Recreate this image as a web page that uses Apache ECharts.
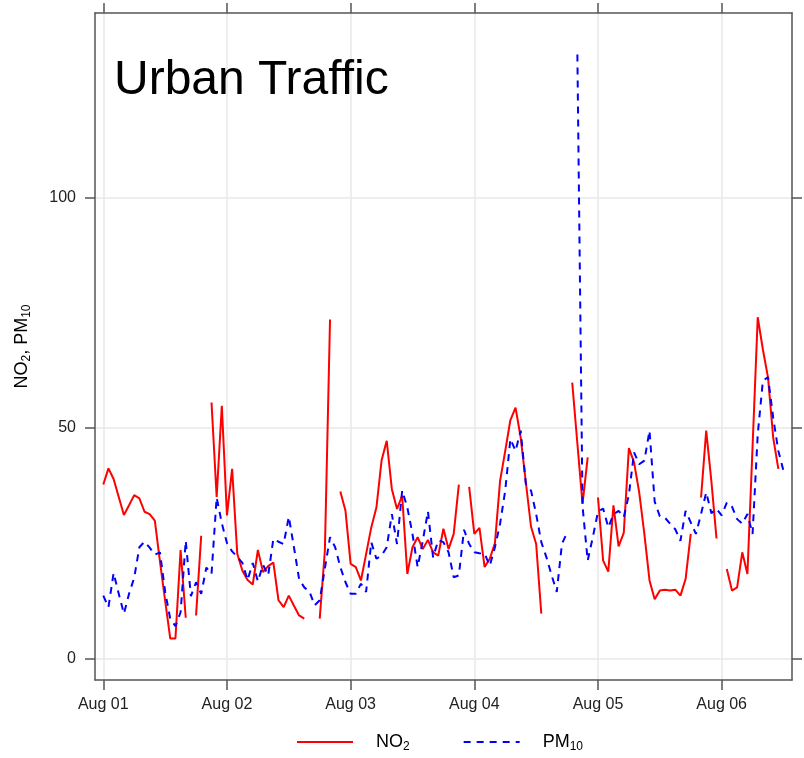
<!DOCTYPE html>
<html>
<head>
<meta charset="utf-8">
<script src="https://cdn.jsdelivr.net/npm/echarts@6/dist/echarts.min.js"></script>
<style>
  html, body { margin: 0; padding: 0; background: #fff; }
  #chart { width: 804px; height: 758px; }
</style>
</head>
<body>
<div id="chart"></div>
<script>
// hourly values from Aug 01 00:00, null = missing hour
var dayLabels = ['Aug 01', 'Aug 02', 'Aug 03', 'Aug 04', 'Aug 05', 'Aug 06'];
var dayTicks = [0, 24, 48, 72, 96, 120];
var yTicks = [0, 50, 100];

var no2 = [
  37.7, 41.2, 38.9, 35.0, 31.1, 33.2, 35.4, 34.7, 31.8, 31.3, 29.9, 21.0, 12.5, 4.3, 4.3, 23.5, 8.8, null, 9.3, 26.6, null, 55.5, 35.0, 54.8,
  31.0, 41.1, 22.7, 19.0, 17.0, 16.0, 23.5, 18.7, 20.0, 20.8, 12.6, 11.1, 13.6, 11.4, 9.3, 8.6, null, null, 8.6, 23.4, 73.5, null, 36.2, 32.0,
  20.5, 19.8, 16.9, 22.6, 28.4, 32.7, 42.9, 47.2, 36.7, 32.4, 35.3, 18.3, 24.1, 26.3, 23.7, 25.7, 23.0, 22.3, 28.1, 23.7, 27.0, 37.7, null, 37.2,
  27.0, 28.3, 19.8, 21.6, 25.0, 38.5, 45.0, 51.7, 54.4, 47.9, 38.2, 28.6, 24.8, 9.7, null, null, null, null, null, 59.8, 46.6, 33.5, 43.6, null,
  34.9, 21.2, 18.8, 33.2, 24.3, 27.2, 45.6, 42.5, 36.0, 27.0, 16.9, 12.8, 14.7, 14.9, 14.7, 14.9, 13.6, 17.2, 27.0, null, 34.9, 49.4, 38.5, 26.0,
  null, 19.4, 14.7, 15.4, 23.0, 18.3, 46.0, 74.0, 67.0, 60.9, 47.9, 41.1
];

var pm10 = [
  13.6, 11.1, 18.5, 14.0, 9.7, 14.0, 17.5, 24.1, 25.3, 24.0, 22.5, 23.0, 14.5, 8.5, 7.0, 10.0, 25.5, 13.5, 16.5, 14.0, 19.7, 18.3, 34.9, 29.3,
  25.0, 23.2, 22.0, 20.7, 17.0, 20.7, 16.7, 20.3, 18.0, 25.9, 25.3, 24.8, 30.7, 24.1, 17.2, 15.4, 14.5, 11.5, 12.6, 19.5, 26.3, 24.1, 19.8, 16.5,
  14.0, 14.0, 16.2, 14.4, 25.2, 21.6, 22.3, 24.1, 31.3, 24.8, 36.4, 32.7, 27.0, 19.8, 25.5, 31.9, 21.9, 25.6, 25.2, 23.0, 17.6, 18.0, 27.9, 24.8,
  23.0, 22.8, 22.7, 20.1, 24.1, 29.2, 36.4, 47.6, 45.0, 49.4, 37.8, 36.4, 31.3, 25.2, 21.9, 18.0, 14.4, 24.8, 27.3, null, 131.0, 33.0, 21.2, 26.3,
  31.8, 32.5, 28.4, 31.2, 32.0, 30.6, 35.5, 44.7, 42.1, 42.9, 49.4, 34.0, 30.8, 30.5, 29.2, 28.0, 25.5, 32.0, 29.5, 27.0, 31.3, 36.0, 31.5, 32.4,
  31.0, 33.8, 32.9, 30.2, 29.2, 31.3, 27.0, 48.6, 60.2, 61.0, 52.2, 45.0, 40.7
];

function toPairs(arr) {
  var out = [];
  for (var i = 0; i < arr.length; i++) out.push([i, arr[i]]);
  return out;
}

var frameColor = '#555555';
var font = 'Liberation Sans, Arial, sans-serif';
var rich = {
  n: { fontSize: 18, lineHeight: 22, fontFamily: font, color: '#000' },
  s: { fontSize: 12, lineHeight: 12, verticalAlign: 'bottom', fontFamily: font, color: '#000' }
};

function xAxisDef(pos, labels) {
  return {
    type: 'value',
    position: pos,
    min: -1.61,
    max: 133.65,
    minInterval: 24,
    maxInterval: 24,
    axisLine: { show: true, onZero: false, lineStyle: { color: frameColor, width: 1.5 } },
    axisTick: { show: true, length: 10, customValues: dayTicks, lineStyle: { color: frameColor, width: 1.5 } },
    axisLabel: {
      show: labels, customValues: dayTicks, margin: 17, fontSize: 16, color: '#222', fontFamily: font,
      formatter: function (v) { return dayLabels[Math.round(v / 24)] || ''; }
    },
    splitLine: { show: labels, lineStyle: { color: '#e8e8e8', width: 1.5 } }
  };
}

function yAxisDef(pos, labels) {
  var ax = {
    type: 'value',
    position: pos,
    min: -4.7,
    max: 140,
    minInterval: 50,
    maxInterval: 50,
    axisLine: { show: true, onZero: false, lineStyle: { color: frameColor, width: 1.5 } },
    axisTick: { show: true, length: 10, customValues: yTicks, lineStyle: { color: frameColor, width: 1.5 } },
    axisLabel: { show: labels, customValues: yTicks, margin: 19, fontSize: 16, color: '#222', fontFamily: font },
    splitLine: { show: labels, lineStyle: { color: '#e8e8e8', width: 1.5 } }
  };
  if (labels) {
    ax.name = '{n|NO}{s|2}{n|, PM}{s|10}';
    ax.nameLocation = 'middle';
    ax.nameRotate = 90;
    ax.nameGap = 62;
    ax.nameTextStyle = { rich: rich };
  }
  return ax;
}

var chart = echarts.init(document.getElementById('chart'));
chart.setOption({
  animation: false,
  textStyle: { fontFamily: font },
  title: {
    text: 'Urban Traffic',
    left: 114,
    top: 57,
    padding: 0,
    textStyle: { fontSize: 48, fontWeight: 'normal', color: '#000', fontFamily: font }
  },
  grid: { left: 95, right: 12, top: 13, bottom: 78, containLabel: false },
  xAxis: [xAxisDef('bottom', true), xAxisDef('top', false)],
  yAxis: [yAxisDef('left', true), yAxisDef('right', false)],
  legend: {
    left: 296,
    top: 733,
    padding: 0,
    itemWidth: 56,
    itemHeight: 20,
    itemGap: 53,
    itemStyle: { opacity: 0 },
    textStyle: { padding: [0, 0, 0, 18], rich: rich },
    formatter: function (name) {
      return name === 'NO2' ? '{n|NO}{s|2}' : '{n|PM}{s|10}';
    },
    data: ['NO2', 'PM10']
  },
  series: [
    {
      name: 'NO2',
      type: 'line',
      data: toPairs(no2),
      symbol: 'none',
      connectNulls: false,
      color: '#ff0000',
      lineStyle: { color: '#ff0000', width: 2 }
    },
    {
      name: 'PM10',
      type: 'line',
      data: toPairs(pm10),
      symbol: 'none',
      connectNulls: false,
      color: '#0000ff',
      lineStyle: { color: '#0000ff', width: 2, type: [7, 6] }
    }
  ]
});
</script>
</body>
</html>
